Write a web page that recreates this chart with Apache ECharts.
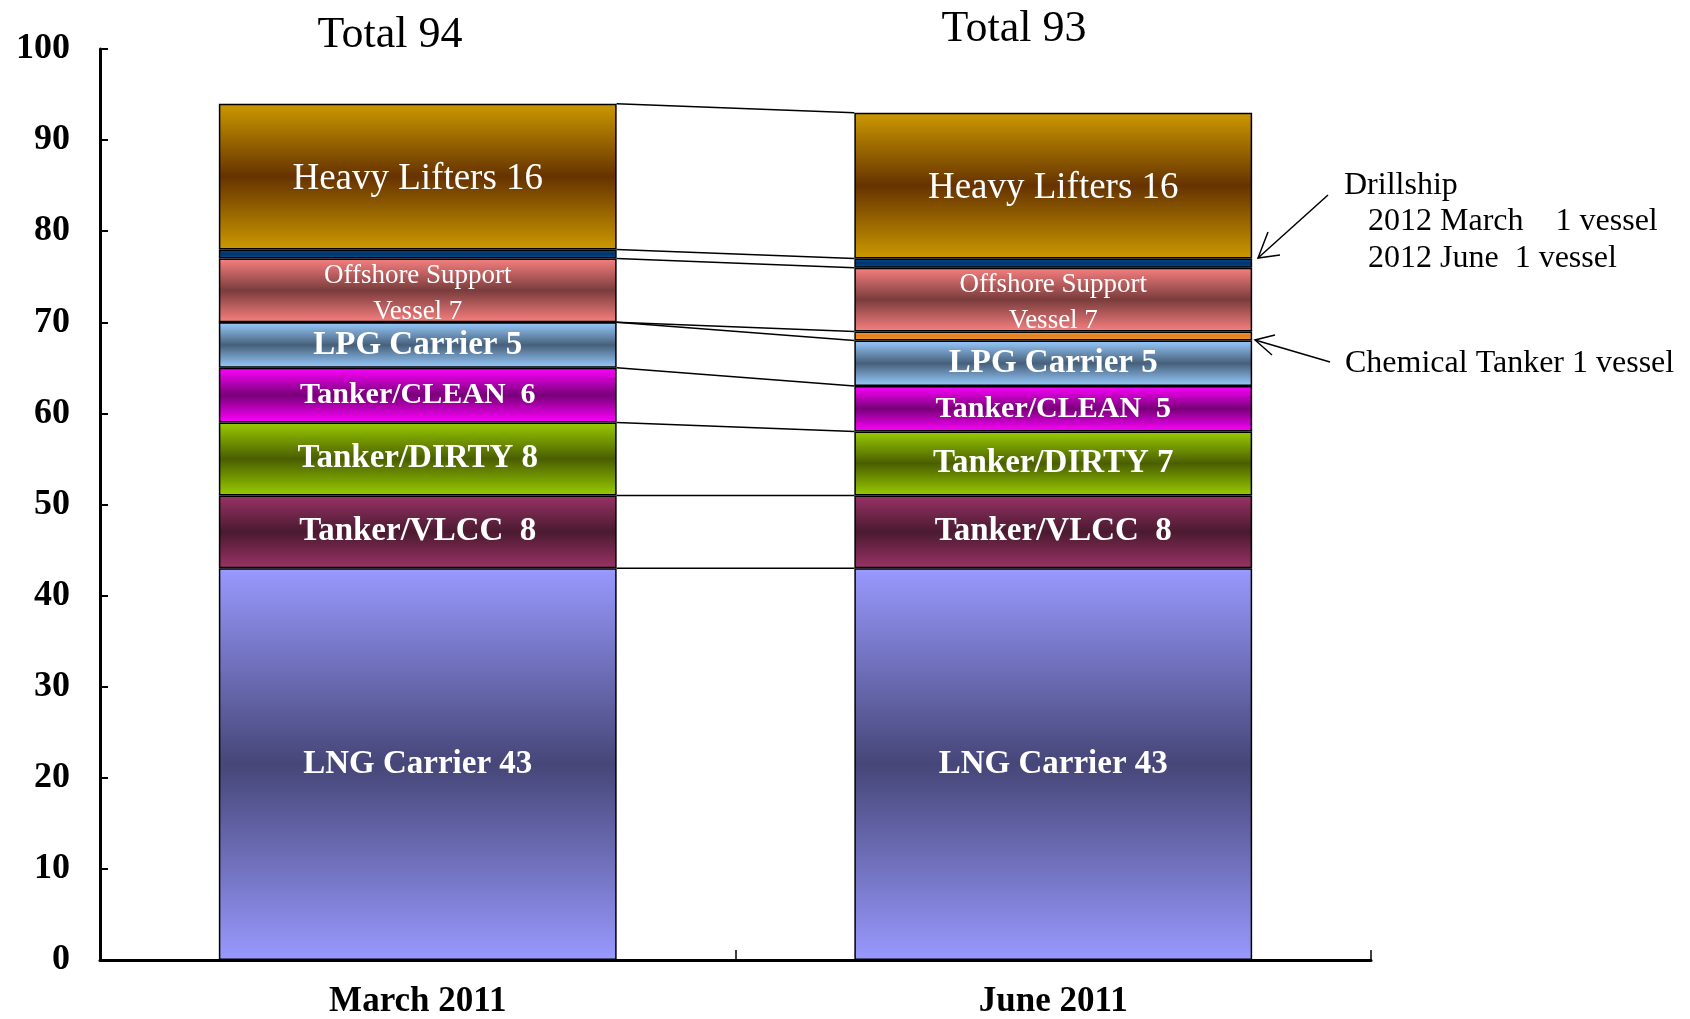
<!DOCTYPE html>
<html>
<head>
<meta charset="utf-8">
<script src="https://cdn.jsdelivr.net/npm/echarts@6/dist/echarts.min.js"></script>
<style>
  html, body { margin: 0; padding: 0; background: #fff; }
  #main { width: 1690px; height: 1019px; }
</style>
</head>
<body>
<div id="main"></div>
<script>
// categories and stacked counts (bottom to top)
var categories = ['March 2011', 'June 2011'];
var seriesNames = ['LNG Carrier', 'Tanker/VLCC', 'Tanker/DIRTY', 'Tanker/CLEAN', 'LPG Carrier',
                   'Chemical Tanker', 'Offshore Support Vessel', 'Drillship', 'Heavy Lifters'];
var lngCarrier   = [43, 43];
var tankerVlcc   = [8, 8];
var tankerDirty  = [8, 7];
var tankerClean  = [6, 5];
var lpgCarrier   = [5, 5];
var chemTanker   = [0, 1];
var offshore     = [7, 7];
var drillship    = [1, 1];
var heavyLifters = [16, 16];
var yTicks = [0, 10, 20, 30, 40, 50, 60, 70, 80, 90, 100];

var allData = [lngCarrier, tankerVlcc, tankerDirty, tankerClean, lpgCarrier,
               chemTanker, offshore, drillship, heavyLifters];
// label text in bars ('' = no label)
var labelText = ['LNG Carrier ', 'Tanker/VLCC  ', 'Tanker/DIRTY ', 'Tanker/CLEAN  ', 'LPG Carrier ',
                 '', 'Offshore Support\nVessel ', '', 'Heavy Lifters '];
var labelSize = [33, 33, 33, 30, 33, 0, 27, 0, 37];
// gradient edge / middle colours
var edgeColors = ['#9999ff', '#993366', '#99cc00', '#ff00ff', '#99ccff', '#ff9933', '#f88080', '#0050a0', '#cc9900'];
var midColors  = ['#464678', '#4a1a30', '#4a5e00', '#780078', '#46607a', '#e08020', '#7a3c3c', '#003366', '#663300'];

var chart = echarts.init(document.getElementById('main'));

var barW = 0.626;

var series = [];
for (var i = 0; i < allData.length; i++) {
    var bold = (i != 6 && i != 8);
    series.push({
        name: seriesNames[i],
        type: 'bar',
        stack: 'total',
        barWidth: (barW * 100) + '%',
        data: allData[i],
        itemStyle: {
            borderColor: '#000',
            borderWidth: 1.5,
            color: new echarts.graphic.LinearGradient(0, 0, 0, 1, [
                {offset: 0, color: edgeColors[i]},
                {offset: 0.5, color: midColors[i]},
                {offset: 1, color: edgeColors[i]}
            ])
        },
        label: {
            show: labelText[i] != '',
            position: 'inside',
            offset: [0, (i == 6 || i == 8) ? 3 : 0],
            color: '#fff',
            fontFamily: 'Liberation Serif',
            fontWeight: bold ? 'bold' : 'normal',
            fontSize: labelSize[i] || 12,
            lineHeight: i == 6 ? 36 : 36,
            formatter: (function (idx) {
                return function (p) { return labelText[idx] + p.value; };
            })(i)
        },
        emphasis: {disabled: true}
    });
}

// series lines between stack tops
var cum0 = 0, cum1 = 0, boundaries = [];
for (var k = 0; k < allData.length; k++) {
    cum0 += allData[k][0];
    cum1 += allData[k][1];
    boundaries.push([0, cum0, cum1]);
}
series.push({
    type: 'custom',
    data: boundaries,
    encode: {x: 0, y: [1, 2]},
    silent: true,
    z: 1,
    renderItem: function (params, api) {
        var p0 = api.coord([0, api.value(1)]);
        var p1 = api.coord([1, api.value(2)]);
        var hw = api.size([1, 0])[0] * barW / 2;
        return {
            type: 'line',
            shape: {x1: p0[0] + hw, y1: p0[1], x2: p1[0] - hw, y2: p1[1]},
            style: {stroke: '#000', lineWidth: 1.5}
        };
    }
});

var totals = [cum0, cum1];

var option = {
    animation: false,
    grid: {left: 100, right: 319, top: 49, bottom: 59},
    xAxis: {
        type: 'category',
        data: categories,
        axisLine: {lineStyle: {color: '#000', width: 3}},
        axisTick: {show: true, inside: true, length: 10, lineStyle: {color: '#000', width: 1.5}},
        axisLabel: {
            color: '#000', fontFamily: 'Liberation Serif', fontWeight: 'bold',
            fontSize: 35, margin: 24
        }
    },
    yAxis: {
        type: 'value',
        min: yTicks[0],
        max: yTicks[yTicks.length - 1],
        interval: 10,
        splitLine: {show: false},
        axisLine: {show: true, lineStyle: {color: '#000', width: 3}},
        axisTick: {show: true, inside: true, length: 8, lineStyle: {color: '#000', width: 2}},
        axisLabel: {
            color: '#000', fontFamily: 'Liberation Serif', fontWeight: 'bold',
            fontSize: 36, margin: 30
        }
    },
    graphic: [
        {type: 'text', x: 390, y: 35,
         style: {text: 'Total ' + totals[0], textAlign: 'center', textVerticalAlign: 'middle',
                 font: '44px "Liberation Serif"', fill: '#000'}},
        {type: 'text', x: 1014, y: 29,
         style: {text: 'Total ' + totals[1], textAlign: 'center', textVerticalAlign: 'middle',
                 font: '44px "Liberation Serif"', fill: '#000'}},
        {type: 'text', x: 1344, y: 167,
         style: {text: 'Drillship\n   2012 March    1 vessel\n   2012 June  1 vessel',
                 font: '32px "Liberation Serif"', lineHeight: 36.5, fill: '#000'}},
        {type: 'text', x: 1345, y: 348,
         style: {text: 'Chemical Tanker 1 vessel', font: '32px "Liberation Serif"', fill: '#000'}},
        {type: 'polyline', shape: {points: [[1328, 195], [1258, 258]]},
         style: {stroke: '#000', lineWidth: 1.5, fill: null}},
        {type: 'polyline', shape: {points: [[1280, 255], [1258, 258], [1268, 232]]},
         style: {stroke: '#000', lineWidth: 1.5, fill: null}},
        {type: 'polyline', shape: {points: [[1330, 362], [1255, 340]]},
         style: {stroke: '#000', lineWidth: 1.5, fill: null}},
        {type: 'polyline', shape: {points: [[1275, 335], [1255, 340], [1272, 355]]},
         style: {stroke: '#000', lineWidth: 1.5, fill: null}}
    ],
    series: series
};
chart.setOption(option);
</script>
</body>
</html>
